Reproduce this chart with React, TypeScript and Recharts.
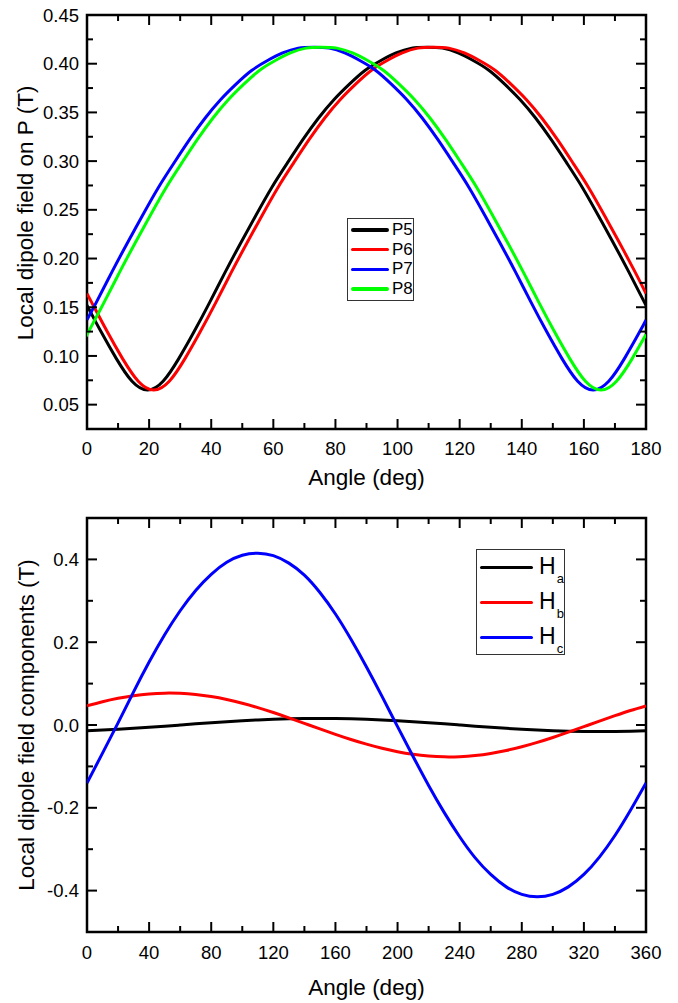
import { LineChart, Line, XAxis, YAxis, Legend, Label, ReferenceArea } from 'recharts';

const FONT = "'Liberation Sans', Arial, sans-serif";

// ---- top panel: local dipole field on P ----
const p5Angle = [0, 4.5, 9.5, 14.5, 19.5, 24.5, 29.5, 34.5, 39.5, 44.5, 49.5, 54.5, 59.5, 64.5, 69.5, 74.5, 79.5, 84.5, 89.5, 94.5, 99.5, 104.5, 109.5, 114.5, 119.5, 124.5, 129.5, 134.5, 139.5, 144.5, 149.5, 154.5, 159.5, 164.5, 169.5, 174.5, 179.5, 180];
const p5Field = [0.152, 0.125, 0.097, 0.074, 0.065, 0.074, 0.097, 0.125, 0.155, 0.186, 0.216, 0.245, 0.273, 0.298, 0.322, 0.344, 0.363, 0.379, 0.393, 0.403, 0.411, 0.416, 0.417, 0.416, 0.411, 0.403, 0.393, 0.379, 0.363, 0.344, 0.322, 0.298, 0.273, 0.245, 0.216, 0.186, 0.155, 0.152];

const p6Angle = [0, 1.5, 6.5, 11.5, 16.5, 21.5, 26.5, 31.5, 36.5, 41.5, 46.5, 51.5, 56.5, 61.5, 66.5, 71.5, 76.5, 81.5, 86.5, 91.5, 96.5, 101.5, 106.5, 111.5, 116.5, 121.5, 126.5, 131.5, 136.5, 141.5, 146.5, 151.5, 156.5, 161.5, 166.5, 171.5, 176.5, 180];
const p6Field = [0.164, 0.155, 0.125, 0.097, 0.074, 0.065, 0.074, 0.097, 0.125, 0.155, 0.186, 0.216, 0.245, 0.273, 0.298, 0.322, 0.344, 0.363, 0.379, 0.393, 0.403, 0.411, 0.416, 0.417, 0.416, 0.411, 0.403, 0.393, 0.379, 0.363, 0.344, 0.322, 0.298, 0.273, 0.245, 0.216, 0.186, 0.164];

const p7Angle = [0, 3, 8, 13, 18, 23, 28, 33, 38, 43, 48, 53, 58, 63, 68, 73, 78, 83, 88, 93, 98, 103, 108, 113, 118, 123, 128, 133, 138, 143, 148, 153, 158, 163, 168, 173, 178, 180];
const p7Field = [0.137, 0.155, 0.186, 0.216, 0.245, 0.273, 0.298, 0.322, 0.344, 0.363, 0.379, 0.393, 0.403, 0.411, 0.416, 0.417, 0.416, 0.411, 0.403, 0.393, 0.379, 0.363, 0.344, 0.322, 0.298, 0.273, 0.245, 0.216, 0.186, 0.155, 0.125, 0.097, 0.074, 0.065, 0.074, 0.097, 0.125, 0.137];

const p8Angle = [0, 0.5, 5.5, 10.5, 15.5, 20.5, 25.5, 30.5, 35.5, 40.5, 45.5, 50.5, 55.5, 60.5, 65.5, 70.5, 75.5, 80.5, 85.5, 90.5, 95.5, 100.5, 105.5, 110.5, 115.5, 120.5, 125.5, 130.5, 135.5, 140.5, 145.5, 150.5, 155.5, 160.5, 165.5, 170.5, 175.5, 180];
const p8Field = [0.122, 0.125, 0.155, 0.186, 0.216, 0.245, 0.273, 0.298, 0.322, 0.344, 0.363, 0.379, 0.393, 0.403, 0.411, 0.416, 0.417, 0.416, 0.411, 0.403, 0.393, 0.379, 0.363, 0.344, 0.322, 0.298, 0.273, 0.245, 0.216, 0.186, 0.155, 0.125, 0.097, 0.074, 0.065, 0.074, 0.097, 0.122];

const topSeries = [
  { name: 'P5', color: '#000000', angle: p5Angle, field: p5Field },
  { name: 'P6', color: '#ff0000', angle: p6Angle, field: p6Field },
  { name: 'P7', color: '#0000ff', angle: p7Angle, field: p7Field },
  { name: 'P8', color: '#00ff00', angle: p8Angle, field: p8Field },
];

const topMajorX = [0, 20, 40, 60, 80, 100, 120, 140, 160, 180];
const topAllX = [0, 10, 20, 30, 40, 50, 60, 70, 80, 90, 100, 110, 120, 130, 140, 150, 160, 170, 180];
const topMajorY = [0.05, 0.1, 0.15, 0.2, 0.25, 0.3, 0.35, 0.4, 0.45];
const topAllY = [0.025, 0.05, 0.075, 0.1, 0.125, 0.15, 0.175, 0.2, 0.225, 0.25, 0.275, 0.3, 0.325, 0.35, 0.375, 0.4, 0.425, 0.45];

// ---- bottom panel: field components ----
const angles = [0, 10, 20, 30, 40, 50, 60, 70, 80, 90, 100, 110, 120, 130, 140, 150, 160, 170, 180, 190, 200, 210, 220, 230, 240, 250, 260, 270, 280, 290, 300, 310, 320, 330, 340, 350, 360];
const ha = [-0.0139, -0.0123, -0.0103, -0.008, -0.0055, -0.0028, 0, 0.0028, 0.0055, 0.008, 0.0103, 0.0123, 0.0139, 0.015, 0.0158, 0.016, 0.0158, 0.015, 0.0139, 0.0123, 0.0103, 0.008, 0.0055, 0.0028, 0, -0.0028, -0.0055, -0.008, -0.0103, -0.0123, -0.0139, -0.015, -0.0158, -0.016, -0.0158, -0.015, -0.0139];
const hb = [0.0463, 0.0563, 0.0646, 0.0709, 0.075, 0.0769, 0.0764, 0.0736, 0.0686, 0.0615, 0.0525, 0.0419, 0.0301, 0.0173, 0.004, -0.0094, -0.0225, -0.035, -0.0463, -0.0563, -0.0646, -0.0709, -0.075, -0.0769, -0.0764, -0.0736, -0.0686, -0.0615, -0.0525, -0.0419, -0.0301, -0.0173, -0.004, 0.0094, 0.0225, 0.035, 0.0463];
const hc = [-0.14, -0.068, 0.005, 0.08, 0.152, 0.218, 0.276, 0.325, 0.364, 0.393, 0.41, 0.415, 0.409, 0.391, 0.362, 0.32, 0.268, 0.207, 0.14, 0.069, -0.004, -0.076, -0.146, -0.211, -0.27, -0.321, -0.361, -0.391, -0.409, -0.415, -0.409, -0.391, -0.361, -0.319, -0.267, -0.206, -0.14];

const botSeries = [
  { key: 'ha', sub: 'a', color: '#000000' },
  { key: 'hb', sub: 'b', color: '#ff0000' },
  { key: 'hc', sub: 'c', color: '#0000ff' },
];

const botMajorX = [0, 40, 80, 120, 160, 200, 240, 280, 320, 360];
const botAllX = [0, 20, 40, 60, 80, 100, 120, 140, 160, 180, 200, 220, 240, 260, 280, 300, 320, 340, 360];
const botMajorY = [-0.4, -0.2, 0, 0.2, 0.4];
const botAllY = [-0.5, -0.4, -0.3, -0.2, -0.1, 0, 0.1, 0.2, 0.3, 0.4, 0.5];

const botData = angles.map((a, i) => ({ x: a, ha: ha[i], hb: hb[i], hc: hc[i] }));

// ---- layout ----
const W = 678;
const RIGHT = 32;
const TOP_A = 15;
const TOP_B = 18;
const GAP_X = 13;
const GAP_Y = 8;
const MAJOR_LEN = 10;
const MINOR_LEN = 6;

const tickText = { fill: '#000', fontSize: 18.5, fontFamily: FONT };
const tl = { stroke: '#000', strokeWidth: 2 };

// bottom-axis tick: label + inward tick at bottom, mirrored inward tick at top
const xTick = (plotTop: number, majors: number[], gap: number) => (props: any) => {
  const { x, y, payload } = props;
  const major = majors.includes(payload.value);
  const len = major ? MAJOR_LEN : MINOR_LEN;
  const axisY = y - gap;
  return (
    <g>
      <line x1={x} x2={x} y1={axisY} y2={axisY - len} {...tl} />
      <line x1={x} x2={x} y1={plotTop} y2={plotTop + len} {...tl} />
      {major && (
        <text x={x} y={y} dy="0.72em" textAnchor="middle" {...tickText}>{payload.value}</text>
      )}
    </g>
  );
};

// left-axis tick: label + inward tick at left, mirrored inward tick at right
const yTick = (majors: number[], digits: number) => (props: any) => {
  const { x, y, payload } = props;
  const major = majors.includes(payload.value);
  const len = major ? MAJOR_LEN : MINOR_LEN;
  const axisX = x + GAP_Y;
  const plotRight = W - RIGHT;
  return (
    <g>
      <line x1={axisX} x2={axisX + len} y1={y} y2={y} {...tl} />
      <line x1={plotRight} x2={plotRight - len} y1={y} y2={y} {...tl} />
      {major && (
        <text x={x} y={y} dy="0.36em" textAnchor="end" {...tickText}>{payload.value.toFixed(digits)}</text>
      )}
    </g>
  );
};

const xTitle = (dy: number) => (props: any) => {
  const vb = props.viewBox ?? { x: 0, y: 0, width: 0, height: 0 };
  return (
    <text x={vb.x + vb.width / 2} y={vb.y + dy} textAnchor="middle" dominantBaseline="central"
      fontFamily={FONT} fontSize={22.5} fill="#000">Angle (deg)</text>
  );
};

const yTitle = (text: string, dx: number, shift: number) => (props: any) => {
  const vb = props.viewBox ?? { x: 0, y: 0, width: 0, height: 0 };
  const cx = vb.x + dx;
  const cy = vb.y + vb.height / 2 + shift;
  return (
    <text x={cx} y={cy} transform={`rotate(-90 ${cx} ${cy})`} textAnchor="middle" dominantBaseline="central"
      fontFamily={FONT} fontSize={22.5} fill="#000">{text}</text>
  );
};

function TopLegend({ payload }: any) {
  return (
    <div style={{ border: '1px solid #333', background: '#fff', width: 65, fontFamily: FONT, padding: '1px 0' }}>
      {(payload ?? []).map((p: any) => (
        <div key={p.value} style={{ display: 'flex', alignItems: 'center', height: 19.75 }}>
          <span style={{ display: 'inline-block', width: 38, height: 3.5, borderRadius: 2, background: p.color, marginLeft: 3 }} />
          <span style={{ marginLeft: 3, fontSize: 17, lineHeight: '16px', color: '#000' }}>{p.value}</span>
        </div>
      ))}
    </div>
  );
}

function BottomLegend({ payload }: any) {
  return (
    <div style={{ border: '1px solid #333', background: '#fff', width: 87, height: 104, fontFamily: FONT }}>
      {(payload ?? []).map((p: any) => (
        <div key={p.value} style={{ display: 'flex', alignItems: 'center', height: 35 }}>
          <span style={{ display: 'inline-block', width: 53, height: 3.5, borderRadius: 2, background: p.color, marginLeft: 3 }} />
          <span style={{ marginLeft: 6, fontSize: 23, lineHeight: '22px', color: '#000', whiteSpace: 'nowrap' }}>
            {p.value.charAt(0)}
            <span style={{ fontSize: 13, position: 'relative', top: 9, marginLeft: 1 }}>{p.value.slice(1)}</span>
          </span>
        </div>
      ))}
    </div>
  );
}

export default function App() {
  return (
    <div style={{ position: 'absolute', left: 0, top: 0, width: W, height: 1003, background: '#fff' }}>
      <LineChart width={W} height={500} margin={{ top: TOP_A, right: RIGHT, bottom: 0, left: 0 }}>
        <XAxis xAxisId="x" dataKey="x" type="number" domain={[0, 180]} ticks={topAllX} interval={0}
          allowDataOverflow tickLine={false} tickSize={0} tickMargin={GAP_X} height={71}
          axisLine={false} tick={xTick(TOP_A, topMajorX, GAP_X)}>
          <Label content={xTitle(48)} />
        </XAxis>
        <YAxis yAxisId="y" type="number" domain={[0.025, 0.45]} ticks={topAllY} interval={0}
          allowDataOverflow tickLine={false} tickSize={0} tickMargin={GAP_Y} width={87}
          axisLine={false} tick={yTick(topMajorY, 2)}>
          <Label content={yTitle('Local dipole field on P (T)', 25, -9)} />
        </YAxis>
        {topSeries.map((s) => (
          <Line key={s.name} xAxisId="x" yAxisId="y" name={s.name} type="natural"
            data={s.angle.map((a, i) => ({ x: a, y: s.field[i] }))} dataKey="y"
            stroke={s.color} strokeWidth={3} dot={false} activeDot={false} isAnimationActive={false} />
        ))}
        <ReferenceArea xAxisId="x" yAxisId="y" x1={0} x2={180} y1={0.025} y2={0.45}
          fill="none" fillOpacity={0} stroke="#000" strokeWidth={2.5} />
        <Legend layout="vertical" align="center" verticalAlign="middle" content={<TopLegend />}
          wrapperStyle={{ left: 347, top: 218, width: 'auto' }} />
      </LineChart>

      <LineChart width={W} height={503} data={botData} margin={{ top: TOP_B, right: RIGHT, bottom: 0, left: 0 }}>
        <XAxis xAxisId="x" dataKey="x" type="number" domain={[0, 360]} ticks={botAllX} interval={0}
          allowDataOverflow tickLine={false} tickSize={0} tickMargin={GAP_X + 1} height={71}
          axisLine={false} tick={xTick(TOP_B, botMajorX, GAP_X + 1)}>
          <Label content={xTitle(55)} />
        </XAxis>
        <YAxis yAxisId="y" type="number" domain={[-0.5, 0.5]} ticks={botAllY} interval={0}
          allowDataOverflow tickLine={false} tickSize={0} tickMargin={GAP_Y} width={87}
          axisLine={false} tick={yTick(botMajorY, 1)}>
          <Label content={yTitle('Local dipole field components (T)', 26, 0)} />
        </YAxis>
        {botSeries.map((s) => (
          <Line key={s.key} xAxisId="x" yAxisId="y" name={`H${s.sub}`} type="natural" dataKey={s.key}
            stroke={s.color} strokeWidth={3} dot={false} activeDot={false} isAnimationActive={false} />
        ))}
        <ReferenceArea xAxisId="x" yAxisId="y" x1={0} x2={360} y1={-0.5} y2={0.5}
          fill="none" fillOpacity={0} stroke="#000" strokeWidth={2.5} />
        <Legend layout="vertical" align="center" verticalAlign="middle" content={<BottomLegend />}
          wrapperStyle={{ left: 476, top: 49, width: 'auto' }} />
      </LineChart>
    </div>
  );
}
